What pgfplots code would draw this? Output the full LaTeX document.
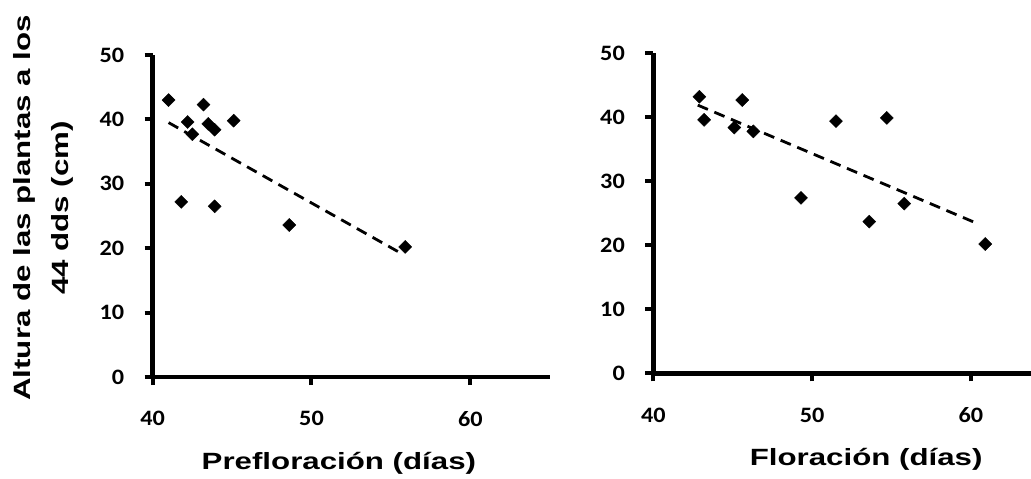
\documentclass[border=0pt]{standalone}
\usepackage{fontspec}
\setmainfont{Liberation Sans}
\newfontfamily\labfont[FakeStretch=1.33]{Liberation Sans}
\newfontfamily\carlito[FakeStretch=1.1]{Carlito}
\usepackage{pgfplots}
\pgfplotsset{compat=1.18}
\begin{document}
\begin{tikzpicture}[x=1pt,y=1pt]
\useasboundingbox (-152.7pt,-102pt) rectangle (878.3pt,377pt);
\pgfplotsset{
  myaxis/.style={
    scale only axis,
    axis x line=bottom, axis y line=left,
    axis line style={line width=4.5pt,-},
    xmin=40, ymin=0, ymax=50,
    xtick={40,50,60}, ytick={0,10,20,30,40,50},
    tick align=outside,
    major tick length=8pt,
    every tick/.style={line width=4pt,black},
    /pgf/number format/assume math mode=true,
    tick label style={font=\carlito\bfseries\fontsize{22}{22}\selectfont},
    yticklabel style={xshift=-17pt},
    xticklabel style={yshift=-23pt},
    clip=false,
  },
  pts/.style={only marks, mark=square*, mark size=4.6pt, mark options={rotate=45,fill=black,draw=black}},
  trend/.style={black, line width=2.8pt, dash pattern=on 11pt off 7pt, no marks},
}
\begin{axis}[myaxis, at={(0pt,0pt)}, anchor=origin,
  width=397pt, height=322pt, xmax=65,
  xlabel={Prefloración (días)},
  ylabel={Altura de las plantas a los\\44 dds (cm)},
  every axis x label/.style={at={(axis description cs:0.469,-0.267)},anchor=center,font=\labfont\bfseries\fontsize{23.5}{25}\selectfont},
  every axis y label/.style={at={(axis description cs:-0.274,0.525)},anchor=center,rotate=90,align=center,font=\labfont\bfseries\fontsize{23.5}{38}\selectfont},
]
\addplot[trend] coordinates {(41.0,39.5) (55.5,19.4)};
\addplot[pts] coordinates {
(41.0,43.0) (43.2,42.3) (42.2,39.6) (43.5,39.3) (43.9,38.4) (42.5,37.7)
(45.1,39.8) (41.8,27.2) (43.9,26.5) (48.6,23.6) (55.9,20.2)};
\end{axis}
\begin{axis}[myaxis, at={(500.6pt,3.7pt)}, anchor=origin,
  width=378pt, height=320pt, xmax=63.8,
  xlabel={Floración (días)},
  every axis x label/.style={at={(axis description cs:0.563,-0.27)},anchor=center,font=\labfont\bfseries\fontsize{23.5}{25}\selectfont},
]
\addplot[trend] coordinates {(42.8,41.9) (60.5,23.3)};
\addplot[pts] coordinates {
(42.9,43.2) (43.2,39.6) (45.6,42.7) (45.1,38.4) (46.3,37.8) (51.5,39.4)
(54.7,39.9) (49.3,27.4) (53.6,23.7) (55.8,26.5) (60.9,20.2)};
\end{axis}
\end{tikzpicture}
\end{document}
